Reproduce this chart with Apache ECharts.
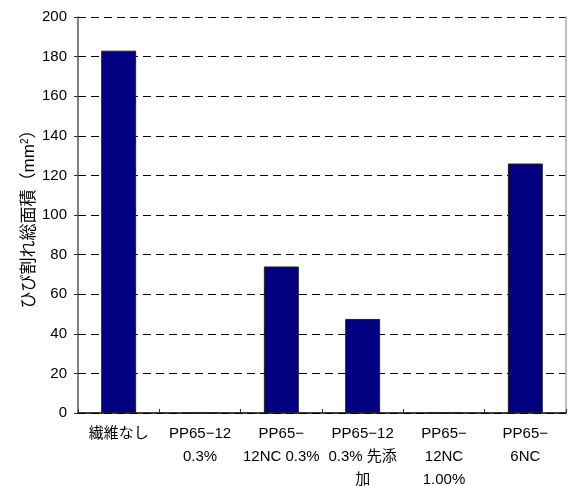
<!DOCTYPE html>
<html>
<head>
<meta charset="utf-8">
<script src="https://cdn.jsdelivr.net/npm/echarts@6/dist/echarts.min.js"></script>
<style>
  html, body { margin: 0; padding: 0; background: #fff; }
  #chart { width: 568px; height: 486px; }
</style>
</head>
<body>
<div id="chart"></div>
<script>
// Crack area per fibre mix
const categories = [
  '繊維なし',
  'PP65−12\n0.3%',
  'PP65−\n12NC 0.3%',
  'PP65−12\n0.3% 先添\n加',
  'PP65−\n12NC\n1.00%',
  'PP65−\n6NC'
];
const crackArea = [183, 0, 74, 47.5, 0, 126];
const yMin = 0;
const yMax = 200;
const yStep = 20;

const fontFamily = '"Liberation Sans", Arial, "Noto Sans CJK JP", sans-serif';

const chart = echarts.init(document.getElementById('chart'));
chart.setOption({
  backgroundColor: '#fff',
  animation: false,
  textStyle: { fontFamily: fontFamily, color: '#000' },
  grid: { left: 78, right: 2, top: 17, bottom: 73, containLabel: false, outerBoundsMode: 'none' },
  xAxis: {
    type: 'category',
    data: categories,
    axisLine: { lineStyle: { color: '#000', width: 1.5 } },
    axisTick: { show: true, inside: true, length: 4, lineStyle: { color: '#333' } },
    axisLabel: {
      interval: 0,
      margin: 9,
      fontSize: 15,
      lineHeight: 23,
      color: '#000',
      fontFamily: fontFamily
    }
  },
  yAxis: [
    {
      type: 'value',
      min: yMin,
      max: yMax,
      interval: yStep,
      name: 'ひび割れ総面積（mm{sup|2}）',
      nameLocation: 'middle',
      nameRotate: 90,
      nameGap: 40,
      nameMoveOverlap: false,
      nameTextStyle: {
        fontSize: 17,
        color: '#000',
        fontFamily: fontFamily,
        rich: {
          sup: { fontSize: 10, verticalAlign: 'top', padding: [0, 0, 8, 0], fontFamily: fontFamily }
        }
      },
      axisLine: { show: true, lineStyle: { color: '#555', width: 1.5 } },
      axisTick: { show: true, inside: false, length: 4, lineStyle: { color: '#333' } },
      axisLabel: { fontSize: 15, color: '#000', margin: 11, fontFamily: fontFamily },
      splitLine: { show: true, lineStyle: { color: '#000', width: 1, type: [8, 5] } }
    },
    {
      type: 'value',
      position: 'right',
      min: yMin,
      max: yMax,
      interval: yStep,
      axisLine: { show: true, lineStyle: { color: '#aaa', width: 1.5 } },
      axisTick: { show: false },
      axisLabel: { show: false },
      splitLine: { show: false }
    }
  ],
  series: [
    {
      type: 'bar',
      data: crackArea,
      barWidth: '43%',
      itemStyle: { color: '#000080', borderColor: '#222', borderWidth: 1 }
    }
  ]
});
</script>
</body>
</html>
